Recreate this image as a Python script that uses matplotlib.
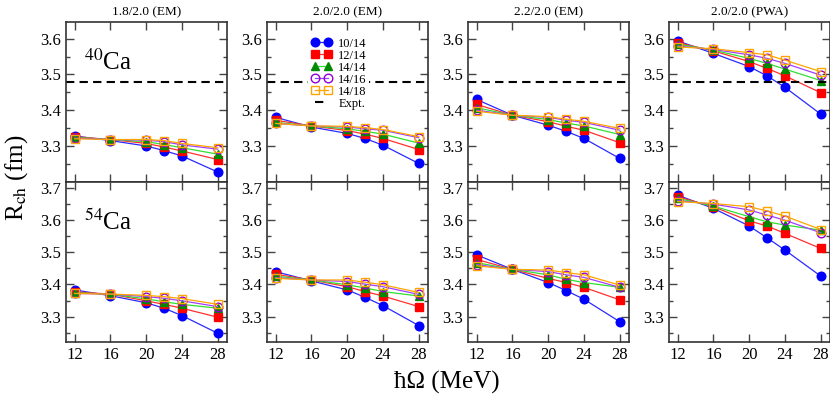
import numpy as np
import matplotlib
matplotlib.use("Agg")
import matplotlib.pyplot as plt
from matplotlib.ticker import MultipleLocator, FixedLocator

plt.rcParams['font.family'] = ['Liberation Serif', 'DejaVu Serif']
plt.rcParams['mathtext.fontset'] = 'stix'

# hbar*Omega values (MeV)
hw = [12, 16, 20, 22, 24, 28]

titles = ['1.8/2.0 (EM)', '2.0/2.0 (EM)', '2.2/2.0 (EM)', '2.0/2.0 (PWA)']
labels = ['10/14', '12/14', '14/14', '14/16', '14/18']
expt_40ca = 3.478

# 40Ca, one list per interaction, rows = 10/14, 12/14, 14/14, 14/16, 14/18
ca40_18 = [[3.328, 3.315, 3.300, 3.287, 3.272, 3.227],
           [3.326, 3.318, 3.307, 3.297, 3.286, 3.262],
           [3.324, 3.318, 3.312, 3.304, 3.295, 3.277],
           [3.322, 3.318, 3.316, 3.312, 3.303, 3.291],
           [3.320, 3.318, 3.318, 3.315, 3.307, 3.295]]
ca40_20 = [[3.380, 3.353, 3.335, 3.321, 3.302, 3.251],
           [3.372, 3.356, 3.343, 3.333, 3.321, 3.290],
           [3.366, 3.356, 3.348, 3.341, 3.333, 3.308],
           [3.363, 3.356, 3.353, 3.348, 3.344, 3.323],
           [3.363, 3.356, 3.355, 3.351, 3.346, 3.326]]
ca40_22 = [[3.430, 3.386, 3.358, 3.341, 3.321, 3.265],
           [3.416, 3.386, 3.368, 3.355, 3.344, 3.309],
           [3.407, 3.386, 3.374, 3.364, 3.356, 3.332],
           [3.400, 3.386, 3.380, 3.372, 3.366, 3.344],
           [3.397, 3.386, 3.382, 3.375, 3.369, 3.349]]
ca40_pwa = [[3.594, 3.559, 3.522, 3.496, 3.464, 3.389],
            [3.589, 3.566, 3.536, 3.517, 3.496, 3.449],
            [3.585, 3.568, 3.545, 3.531, 3.515, 3.483],
            [3.580, 3.570, 3.555, 3.545, 3.531, 3.498],
            [3.577, 3.572, 3.561, 3.555, 3.540, 3.508]]

# 54Ca
ca54_18 = [[3.383, 3.365, 3.343, 3.326, 3.303, 3.248],
           [3.377, 3.370, 3.349, 3.338, 3.326, 3.298],
           [3.374, 3.370, 3.355, 3.346, 3.338, 3.326],
           [3.372, 3.370, 3.362, 3.357, 3.349, 3.331],
           [3.372, 3.370, 3.366, 3.362, 3.356, 3.338]]
ca54_20 = [[3.440, 3.411, 3.383, 3.360, 3.334, 3.272],
           [3.432, 3.414, 3.393, 3.378, 3.364, 3.331],
           [3.426, 3.414, 3.399, 3.389, 3.378, 3.364],
           [3.421, 3.414, 3.409, 3.401, 3.393, 3.369],
           [3.419, 3.414, 3.414, 3.407, 3.399, 3.375]]
ca54_22 = [[3.492, 3.447, 3.406, 3.381, 3.354, 3.284],
           [3.478, 3.447, 3.419, 3.406, 3.391, 3.352],
           [3.468, 3.447, 3.430, 3.416, 3.406, 3.391],
           [3.462, 3.447, 3.440, 3.430, 3.422, 3.391],
           [3.458, 3.447, 3.445, 3.437, 3.430, 3.398]]
ca54_pwa = [[3.678, 3.637, 3.582, 3.545, 3.507, 3.426],
            [3.673, 3.642, 3.598, 3.582, 3.559, 3.512],
            [3.668, 3.644, 3.611, 3.595, 3.585, 3.569],
            [3.661, 3.650, 3.632, 3.616, 3.600, 3.561],
            [3.658, 3.652, 3.642, 3.629, 3.613, 3.571]]

top_data = [ca40_18, ca40_20, ca40_22, ca40_pwa]
bot_data = [ca54_18, ca54_20, ca54_22, ca54_pwa]

# style per series: line colour, marker colour, marker, size, filled
styles = [('#2a2aff', '#0000ff', 'o', 6.2, True),
          ('#ff3030', '#ff0000', 's', 5.6, True),
          ('#30e030', '#008a00', '^', 6.4, True),
          ('#a040ff', '#9400d3', 'o', 6.2, False),
          ('#ffa500', '#ffa500', 's', 5.6, False)]


def draw(ax, rows):
    handles = []
    for (lc, mc, m, ms, filled), vals, lab in zip(styles, rows, labels):
        h, = ax.plot(hw, vals, color=lc, lw=0.9, marker=m, ms=ms,
                     markerfacecolor=mc if filled else 'none',
                     markeredgecolor=mc, markeredgewidth=1.0, label=lab)
        handles.append(h)
    return handles


def style_axis(ax, yticks):
    ax.set_xlim(11, 29)
    ax.xaxis.set_major_locator(FixedLocator([12, 16, 20, 24, 28]))
    ax.yaxis.set_major_locator(FixedLocator(yticks))
    ax.yaxis.set_minor_locator(MultipleLocator(0.05))
    ax.tick_params(which='both', direction='in', top=True, right=True, width=1.0,
                   labelsize=12, color='#444444')
    ax.tick_params(which='major', length=6)
    ax.tick_params(which='minor', length=3)
    for sp in ax.spines.values():
        sp.set_linewidth(1.2)
        sp.set_color('#333333')


fig = plt.figure(figsize=(8.3, 3.95), dpi=100)
x0, w, gap = 65.7 / 830, 161 / 830, 40 / 830

for i in range(4):
    left = x0 + i * (w + gap)
    ax_t = fig.add_axes([left, 0.540, w, 0.4045])
    ax_b = fig.add_axes([left, 0.1335, w, 0.4065])

    hs = draw(ax_t, top_data[i])
    eh = ax_t.axhline(expt_40ca, color='black', lw=1.5, ls=(0, (4, 2.5)), label='Expt.')
    ax_t.set_ylim(3.2, 3.647)
    style_axis(ax_t, [3.3, 3.4, 3.5, 3.6])
    ax_t.tick_params(labelbottom=False)
    ax_t.set_title(titles[i], fontsize=9.5, pad=5)

    draw(ax_b, bot_data[i])
    ax_b.set_ylim(3.22, 3.72)
    style_axis(ax_b, [3.3, 3.4, 3.5, 3.6, 3.7])

    if i == 0:
        ax_t.text(0.115, 0.70, r'$^{40}$Ca', transform=ax_t.transAxes, fontsize=18)
        ax_b.text(0.115, 0.70, r'$^{54}$Ca', transform=ax_b.transAxes, fontsize=18)
    if i == 1:
        leg = ax_t.legend(hs + [eh], labels + ['Expt.'], loc='upper left',
                          bbox_to_anchor=(0.22, 0.955), fontsize=9, numpoints=2,
                          handlelength=1.7, handletextpad=0.5, labelspacing=0.0,
                          borderpad=0.2, frameon=True, fancybox=False,
                          framealpha=1, facecolor='white', edgecolor='none')

fig.text(0.02, 0.55, r'R$_{\mathrm{ch}}$ (fm)', rotation=90, fontsize=18,
         ha='center', va='center')
fig.text(447 / 830, 0.033, 'ħΩ (MeV)', fontsize=18, ha='center', va='center')

fig.savefig('out.png', dpi=100)
